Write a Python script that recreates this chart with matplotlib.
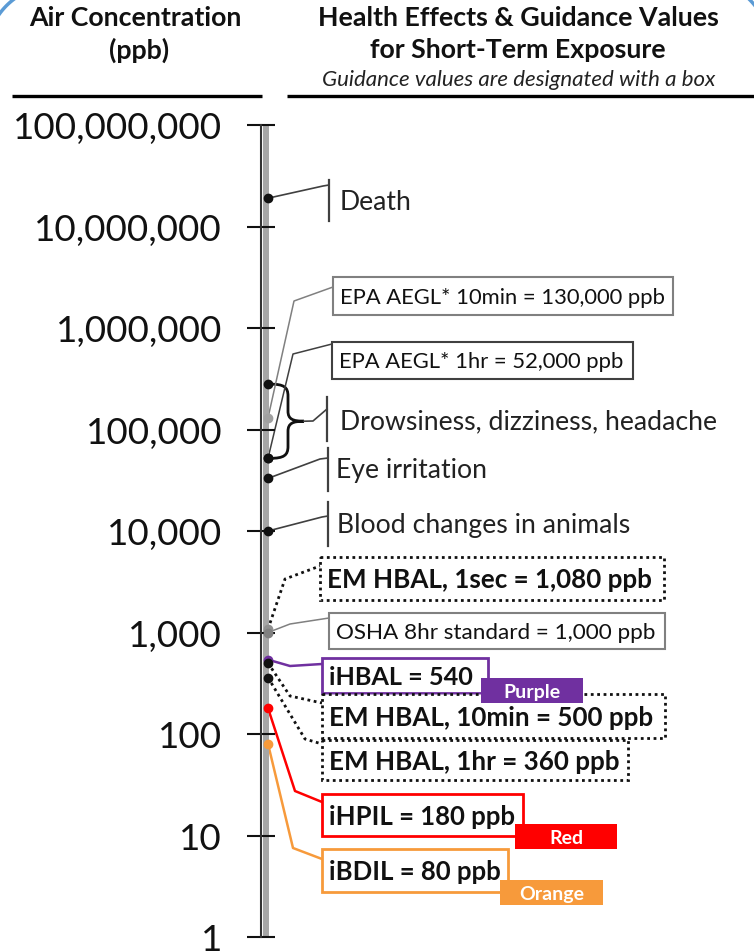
import numpy as np
import matplotlib.pyplot as plt
from matplotlib.path import Path
from matplotlib.patches import PathPatch, Rectangle
from matplotlib.ticker import NullLocator

plt.rcParams['font.family'] = ['Lato', 'DejaVu Sans']

W, H = 754, 953

# concentration axis (ppb)
tick_vals = [1, 10, 100, 1000, 10000, 100000, 1000000, 10000000, 100000000]

# health effects (ppb)
effect_labels = ["Death", "Drowsiness, dizziness, headache", "Eye irritation",
                 "Blood changes in animals"]
effect_vals = [19000000, 280000, 33000, 10000]
drowsy_low = 52000

# guidance values (ppb)
guide_labels = ["EPA AEGL* 10min = 130,000 ppb", "EPA AEGL* 1hr = 52,000 ppb",
                "EM HBAL, 1sec = 1,080 ppb", "OSHA 8hr standard = 1,000 ppb",
                "iHBAL = 540", "EM HBAL, 10min = 500 ppb", "EM HBAL, 1hr = 360 ppb",
                "iHPIL = 180 ppb", "iBDIL = 80 ppb"]
guide_vals = [130000, 52000, 1080, 1000, 540, 500, 360, 180, 80]
tag_labels = ["Purple", "Red", "Orange"]

purple, red, orange = '#7030A0', '#FF0000', '#F79A3B'
grey = '#808080'

fig = plt.figure(figsize=(W / 100, H / 100), dpi=100)

# pixel layer for labels, boxes and connectors
lay = fig.add_axes([0, 0, 1, 1])
lay.set_xlim(0, W)
lay.set_ylim(H, 0)
lay.axis('off')
lay.set_zorder(1)

# log axis, 1e8 at y=126 px and 1 at y=938 px
ax = fig.add_axes([0, 0, 1, 1])
ax.set_zorder(2)
ax.patch.set_visible(False)
dec = 101.5
ax.set_xlim(0, W)
ax.set_yscale('log')
ax.set_ylim(10 ** (-(H - 938) / dec), 10 ** (8 + 126 / dec))
ax.xaxis.set_visible(False)
for s in ['top', 'right', 'bottom']:
    ax.spines[s].set_visible(False)
ax.spines['left'].set_position(('data', 261))
ax.spines['left'].set_bounds(1, 1e8)
ax.spines['left'].set_linewidth(1.5)
ax.spines['left'].set_color('#333333')
ax.set_yticks(tick_vals)
ax.set_yticklabels([f"{v:,}" for v in tick_vals])
ax.yaxis.set_minor_locator(NullLocator())
ax.tick_params(axis='y', direction='inout', length=20, width=1.5,
               labelsize=26.5, pad=18, colors='#111111')
ax.plot([265.5, 265.5], [1, 1e8], color='#A6A6A6', lw=4.3, solid_capstyle='butt', zorder=1)


def pix_y(v):
    d = ax.transData.transform((0, v))
    return lay.transData.inverted().transform(d)[1]


# header
hb = dict(fontsize=19.3, fontweight='bold', ha='center', va='center', color='#111111')
lay.text(135, 18, "Air Concentration", **hb)
lay.text(139, 50, "(ppb)", **hb)
lay.text(518, 18, "Health Effects & Guidance Values", **hb)
lay.text(518, 50, "for Short-Term Exposure", **hb)
lay.text(519, 80, "Guidance values are designated with a box", fontsize=16,
         style='italic', ha='center', va='center', color='#222222')
lay.plot([12, 262], [97, 97], color='black', lw=2.4, solid_capstyle='butt')
lay.plot([287, 754], [97, 97], color='black', lw=2.4, solid_capstyle='butt')

# slide corner arcs
t = np.linspace(np.radians(180), np.radians(270), 60)
lay.plot(55 + 68.5 * np.cos(t), 55 + 68.5 * np.sin(t), color='#5B9BD5', lw=2.5)
t = np.linspace(np.radians(270), np.radians(360), 60)
lay.plot(700 + 70 * np.cos(t), 50 + 70 * np.sin(t), color='#5B9BD5', lw=2.5)

dot_x = 268
lc = '#404040'

# health effects with bracket markers
eff_layout = [  # knee, bracket x, bracket top/bottom, text x, text y
    ((323, 187), 329, 181, 222, 340, 203),
    ((313, 422), 327, 398, 442, 340, 422),
    ((320, 460), 328, 449, 492, 336, 471),
    ((322, 518), 328, 503, 547, 337, 526),
]
for i, (lab, v) in enumerate(zip(effect_labels, effect_vals)):
    knee, bx, b0, b1, tx, ty = eff_layout[i]
    y = pix_y(v)
    if i == 1:
        y2 = pix_y(drowsy_low)
        ym = (y + y2) / 2
        x0, xm, xt = dot_x + 2, 288, 304
        verts = [(x0, y), (xm - 4, y), (xm, y + 3), (xm, y + 12),
                 (xm, ym - 10),
                 (xm, ym - 2), (xm + 5, ym), (xt, ym),
                 (xm + 5, ym), (xm, ym + 2), (xm, ym + 10),
                 (xm, y2 - 12),
                 (xm, y2 - 3), (xm - 4, y2), (x0, y2)]
        codes = [Path.MOVETO, Path.CURVE4, Path.CURVE4, Path.CURVE4,
                 Path.LINETO,
                 Path.CURVE4, Path.CURVE4, Path.CURVE4,
                 Path.CURVE4, Path.CURVE4, Path.CURVE4,
                 Path.LINETO,
                 Path.CURVE4, Path.CURVE4, Path.CURVE4]
        lay.add_patch(PathPatch(Path(verts, codes), fc='none', ec='#111111', lw=2))
        lay.plot([xt, knee[0], bx], [ym, knee[1], 410], color=lc, lw=1.2)
        ax.plot([dot_x, dot_x], [v, drowsy_low], 'o', color='#111111', ms=6, zorder=5)
    else:
        lay.plot([dot_x, knee[0], bx], [y, knee[1], knee[1] - 1], color=lc, lw=1.2)
        ax.plot(dot_x, v, 'o', color='#111111', ms=6, zorder=5)
    lay.plot([bx, bx], [b0, b1], color=lc, lw=1.6)
    lay.text(tx, ty, lab, fontsize=19.2, ha='left', va='center', color='#222222')

# guidance values in boxes
g_layout = [  # box x0, y0, x1, y1, knee, attach y, line colour, style, bold, size, dot colour
    (333, 278, 673, 316, (294, 302), 288, grey, '-', False, 15.8, '#A0A0A0'),
    (332, 343, 633, 380, (293, 355), 345, lc, '-', False, 15.8, '#111111'),
    (320, 558, 664, 601, (285, 580), 567, '#111111', ':', True, 18.7, '#909090'),
    (329, 614, 665, 650, (290, 625), 619, grey, '-', False, 16.2, '#808080'),
    (322, 659, 488, 694, (290, 667), 665, purple, '-', True, 18.2, purple),
    (322, 695, 665, 739, (290, 697), 704, '#111111', ':', True, 18.7, '#111111'),
    (322, 741, 628, 781, (305, 740), 745, '#111111', ':', True, 18.7, '#111111'),
    (322, 795, 523, 837, (295, 792), 803, red, '-', True, 18.5, red),
    (322, 850, 508, 893, (293, 849), 860, orange, '-', True, 18.5, orange),
]
for lab, v, g in zip(guide_labels, guide_vals, g_layout):
    x0, y0, x1, y1, knee, ay, col, ls, bold, fs, dcol = g
    y = pix_y(v)
    if ls == ':':
        lsty, lw = (0, (1, 1.3)), 2
    elif col in (purple, red, orange):
        lsty, lw = '-', 1.8
    else:
        lsty, lw = '-', 1.1
    lay.plot([dot_x, knee[0], x0], [y, knee[1], ay], color=col, lw=lw, ls=lsty)
    bw = 2 if (ls == ':' or col in (purple, red, orange)) else 1.5
    lay.add_patch(Rectangle((x0, y0), x1 - x0, y1 - y0, fc='white', ec=col,
                            lw=bw, ls=lsty, zorder=3))
    lay.text(x0 + 7, (y0 + y1) / 2 + 1, lab, fontsize=fs, ha='left', va='center',
             fontweight='bold' if bold else 'normal', color='#111111', zorder=4)
    ax.plot(dot_x, v, 'o', color=dcol, ms=6, zorder=5)

# colour tags
tag_layout = [(481, 679, 583, 704, purple), (515, 825, 617, 850, red),
              (500, 881, 603, 906, orange)]
for lab, (x0, y0, x1, y1, col) in zip(tag_labels, tag_layout):
    lay.add_patch(Rectangle((x0, y0), x1 - x0, y1 - y0, fc=col, ec='none', zorder=5))
    lay.text((x0 + x1) / 2, (y0 + y1) / 2 + 1, lab, fontsize=14, fontweight='bold',
             color='white', ha='center', va='center', zorder=6)

fig.savefig('out.png', dpi=100)
